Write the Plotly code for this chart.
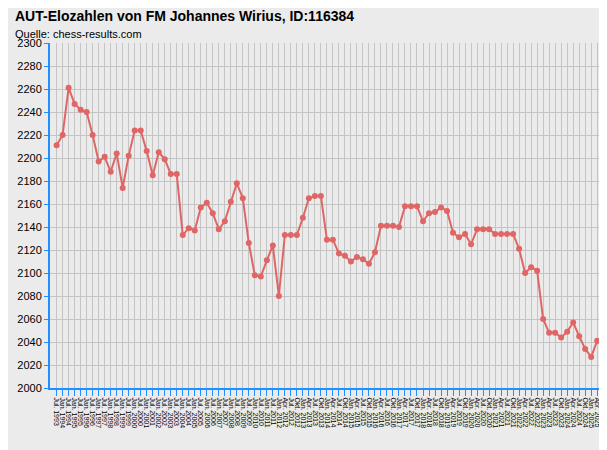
import plotly.graph_objects as go

elo = [2211, 2220, 2261, 2247, 2242, 2240, 2220, 2197, 2201, 2188, 2204, 2174, 2202, 2224, 2224,
       2206, 2185, 2205, 2199, 2186, 2186, 2133, 2139, 2137, 2157, 2161, 2152, 2138, 2145, 2162,
       2178, 2165, 2126, 2098, 2097, 2111, 2124, 2080, 2133, 2133, 2133, 2148, 2165, 2167, 2167,
       2129, 2129, 2117, 2115, 2110, 2114, 2112, 2108, 2118, 2141, 2141, 2141, 2140, 2158, 2158,
       2158, 2145, 2152, 2153, 2157, 2154, 2135, 2131, 2134, 2125, 2138, 2138, 2138, 2134, 2134,
       2134, 2134, 2121, 2100, 2105, 2102, 2060, 2048, 2048, 2044, 2049, 2057, 2045, 2034, 2027,
       2041, 2041]

# semi-annual lists until Jan 2012, quarterly afterwards
dates = []
for y in range(1993, 2012):
    if y > 1993:
        dates.append('Jan. %d' % y)
    dates.append('Jul. %d' % y)
dates.append('Jan. 2012')
for y in range(2012, 2026):
    for m in ['Jan.', 'Apr.', 'Jul.', 'Okt.']:
        if (y == 2012 and m == 'Jan.') or (y == 2025 and m == 'Okt.'):
            continue
        dates.append('%s %d' % (m, y))

fig = go.Figure(go.Scatter(
    x=dates, y=elo, mode='lines+markers',
    line=dict(color='#e06666', width=2),
    marker=dict(color='#e06666', size=6),
))

fig.update_layout(
    width=607, height=450,
    margin=dict(l=42, r=7, t=35, b=70),
    paper_bgcolor='#ebebeb', plot_bgcolor='#ebebeb',
    font=dict(family='Liberation Sans, Arial', size=11, color='black'),
    showlegend=False,
    annotations=[
        dict(text='<b>AUT-Elozahlen von FM Johannes Wirius, ID:116384</b>', x=0, y=1,
             xref='paper', yref='paper', xshift=-37, yshift=17, xanchor='left', yanchor='bottom',
             showarrow=False, font=dict(size=14)),
        dict(text='Quelle: chess-results.com', x=0, y=1,
             xref='paper', yref='paper', xshift=-37, yshift=1, xanchor='left', yanchor='bottom',
             showarrow=False, font=dict(size=11)),
    ],
)
fig.update_xaxes(
    type='category', tickangle=90, tickfont=dict(size=7), tickmode='linear', dtick=1,
    automargin=False,
    showgrid=True, gridcolor='#c4c4c4', gridwidth=1,
    showline=True, linecolor='#1e90ff', linewidth=2,
    ticks='outside', tickcolor='#1e90ff', ticklen=6,
    range=[-1.1, 91.8],
)
fig.update_yaxes(
    range=[2000, 2300], dtick=20, tickfont=dict(size=11), automargin=False,
    showgrid=True, gridcolor='#c4c4c4', gridwidth=1,
    showline=True, linecolor='#1e90ff', linewidth=2,
    ticks='outside', tickcolor='#1e90ff', ticklen=4, zeroline=False,
)

fig.write_html('out.html')
